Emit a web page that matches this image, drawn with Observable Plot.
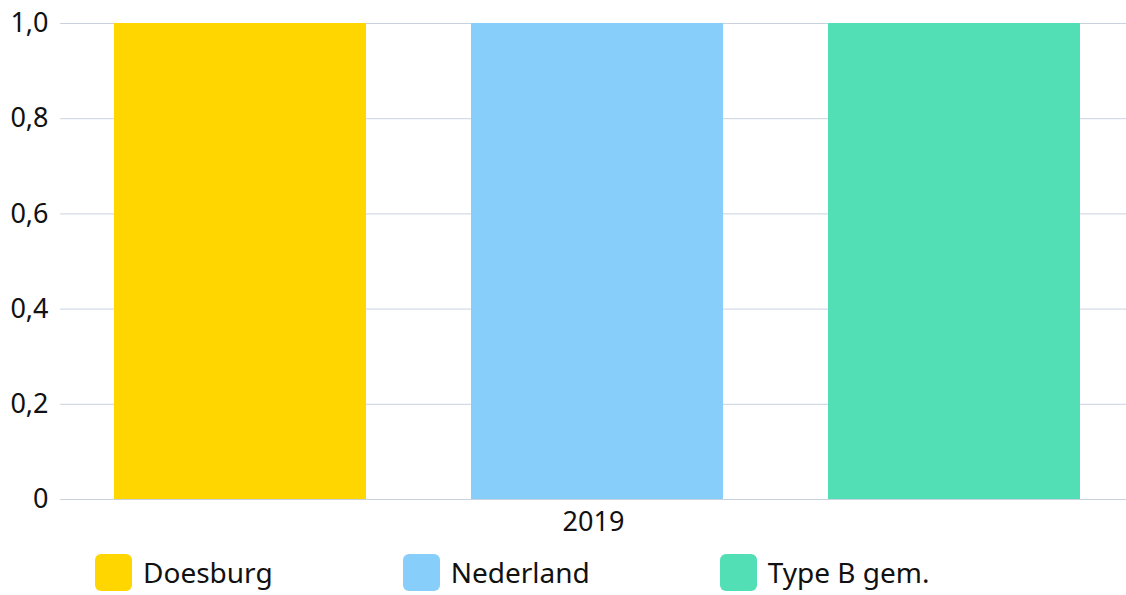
<!DOCTYPE html>
<html>
<head>
<meta charset="utf-8">
<script src="https://cdn.jsdelivr.net/npm/d3@7"></script>
<script src="https://cdn.jsdelivr.net/npm/@observablehq/plot@0.6"></script>
<style>
  html, body { margin: 0; padding: 0; background: #fff; }
  body { width: 1126px; height: 595px; overflow: hidden; font-family: "Noto Sans", sans-serif; }
  #legend { display: flex; padding-left: 95px; margin-top: 13px; }
  .item { display: flex; align-items: center; margin-right: 130px; font-size: 28px; color: #111; white-space: nowrap; }
  .sw { width: 37px; height: 37px; border-radius: 6px; margin-right: 11px; flex: none; }
</style>
</head>
<body>
<div id="chart"></div>
<div id="legend"></div>
<script>
const years = ["2019"];
const categories = ["Doesburg", "Nederland", "Type B gem."];
const values = [1.0, 1.0, 1.0];
const colors = ["#FFD600", "#87CEFA", "#53DFB6"];
const yTicks = [0, 0.2, 0.4, 0.6, 0.8, 1.0];

const data = categories.map((c, i) => ({ year: years[0], name: c, value: values[i] }));
const fmt = v => v === 0 ? "0" : d3.format(".1f")(v).replace(".", ",");
const gridColor = "#c9d3e0";

const chart = Plot.plot({
  width: 1126,
  height: 540,
  marginTop: 23,
  marginBottom: 41,
  marginLeft: 60,
  marginRight: 0,
  style: { fontFamily: "Noto Sans, sans-serif", fontSize: "27px", color: "#111" },
  fx: { domain: years, padding: 0, label: null, axis: "bottom", tickSize: 0, tickPadding: 12 },
  x: { domain: categories, paddingInner: 0.295, paddingOuter: 0.138, align: 0.535, axis: null },
  y: { domain: [0, 1], ticks: yTicks, tickFormat: fmt, tickSize: 0, tickPadding: 12, label: null },
  color: { domain: categories, range: colors },
  marks: [
    Plot.ruleY(yTicks, { stroke: gridColor, strokeWidth: 1, facet: "exclude" }),
    Plot.ruleX([0], { frameAnchor: "left", stroke: gridColor }),
    Plot.barY(data, { fx: "year", x: "name", y: "value", fill: "name" }),
    Plot.axisY({ ticks: yTicks, tickFormat: fmt, tickSize: 0, tickPadding: 12, fontSize: 27 })
  ]
});
document.getElementById("chart").appendChild(chart);

const leg = document.getElementById("legend");
categories.forEach((c, i) => {
  const it = document.createElement("div");
  it.className = "item";
  const sw = document.createElement("span");
  sw.className = "sw";
  sw.style.background = colors[i];
  const t = document.createElement("span");
  t.textContent = c;
  it.appendChild(sw); it.appendChild(t);
  leg.appendChild(it);
});
</script>
</body>
</html>
